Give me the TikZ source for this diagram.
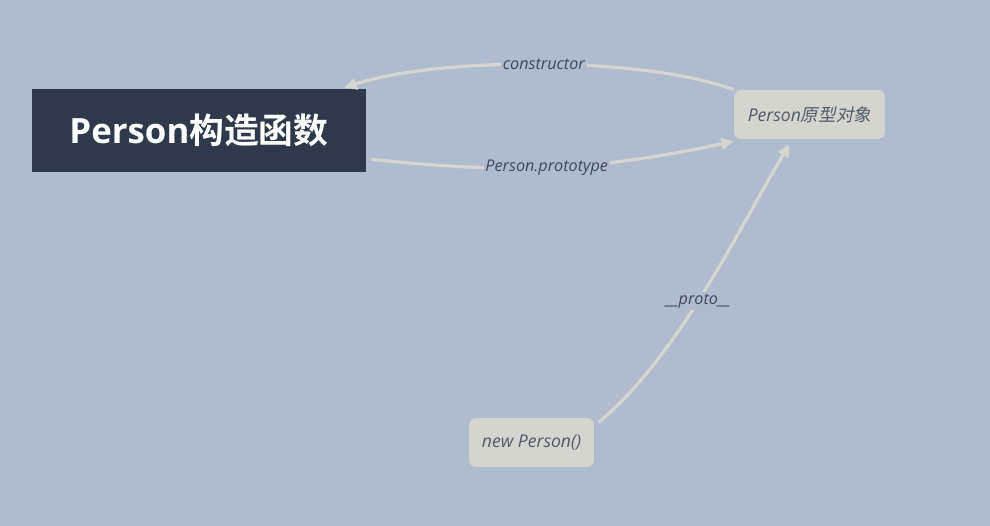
\documentclass[tikz,border=0pt]{standalone}
\usepackage{fontspec}
\setmainfont{Open Sans}
\newfontfamily\cjk{Noto Sans CJK SC}[BoldFont={Noto Sans CJK SC Bold}]
\newfontfamily\cjkit{Noto Sans CJK SC}[FakeSlant=0.2]
\usetikzlibrary{arrows.meta,positioning,calc}
\definecolor{canvas}{RGB}{175,187,207}
\definecolor{navy}{RGB}{46,58,75}
\definecolor{paper}{RGB}{213,213,208}
\definecolor{wire}{RGB}{214,214,208}
\definecolor{ink}{RGB}{62,72,88}

\begin{document}
\begin{tikzpicture}[x=0.02cm,y=-0.02cm,>={Triangle[length=7pt,width=6.5pt]}]
  \tikzstyle{card}=[fill=paper,rounded corners=0.14cm,minimum height=0.98cm,text=ink!90,font=\fontsize{10}{12}\selectfont\itshape]
  \tikzstyle{edge}=[draw=wire,line width=1.8pt]
  \tikzstyle{lbl}=[fill=canvas,inner sep=1pt,text=ink,font=\fontsize{9.2}{11}\selectfont\itshape]
  % canvas
  \fill[canvas] (0,0) rectangle (990,526);
  \useasboundingbox (0,0) rectangle (990,526);
  % nodes
  \node[fill=navy,text=white,minimum width=6.68cm,minimum height=1.66cm,font=\fontsize{19.8}{24}\selectfont\bfseries] (ctor) at (199,130.5) {Person{\cjk 构造函数}};
  \node[card,minimum width=3.02cm] (proto) at (809.5,114.5) {Person{\cjkit 原型对象}};
  \node[card,minimum width=2.5cm] (inst) at (531.5,442.5) {new Person()};
  % links
  \draw[edge,->] (proto.north west) to[out=160,in=18,looseness=0.65] node[lbl,pos=0.49] {constructor} ($(ctor.north east)+(-22,-1)$);
  \draw[edge,->] ($(ctor.south east)+(5,-13)$) to[out=-6,in=-168,looseness=1] node[lbl,pos=0.48] {Person.prototype} ($(proto.south west)+(0,2)$);
  \draw[edge,->] ($(inst.north east)+(4,5)$) to[out=40,in=-121,looseness=0.8] node[lbl,pos=0.47] {\_\_proto\_\_} ($(proto.south)+(-20,5)$);
\end{tikzpicture}
\end{document}
